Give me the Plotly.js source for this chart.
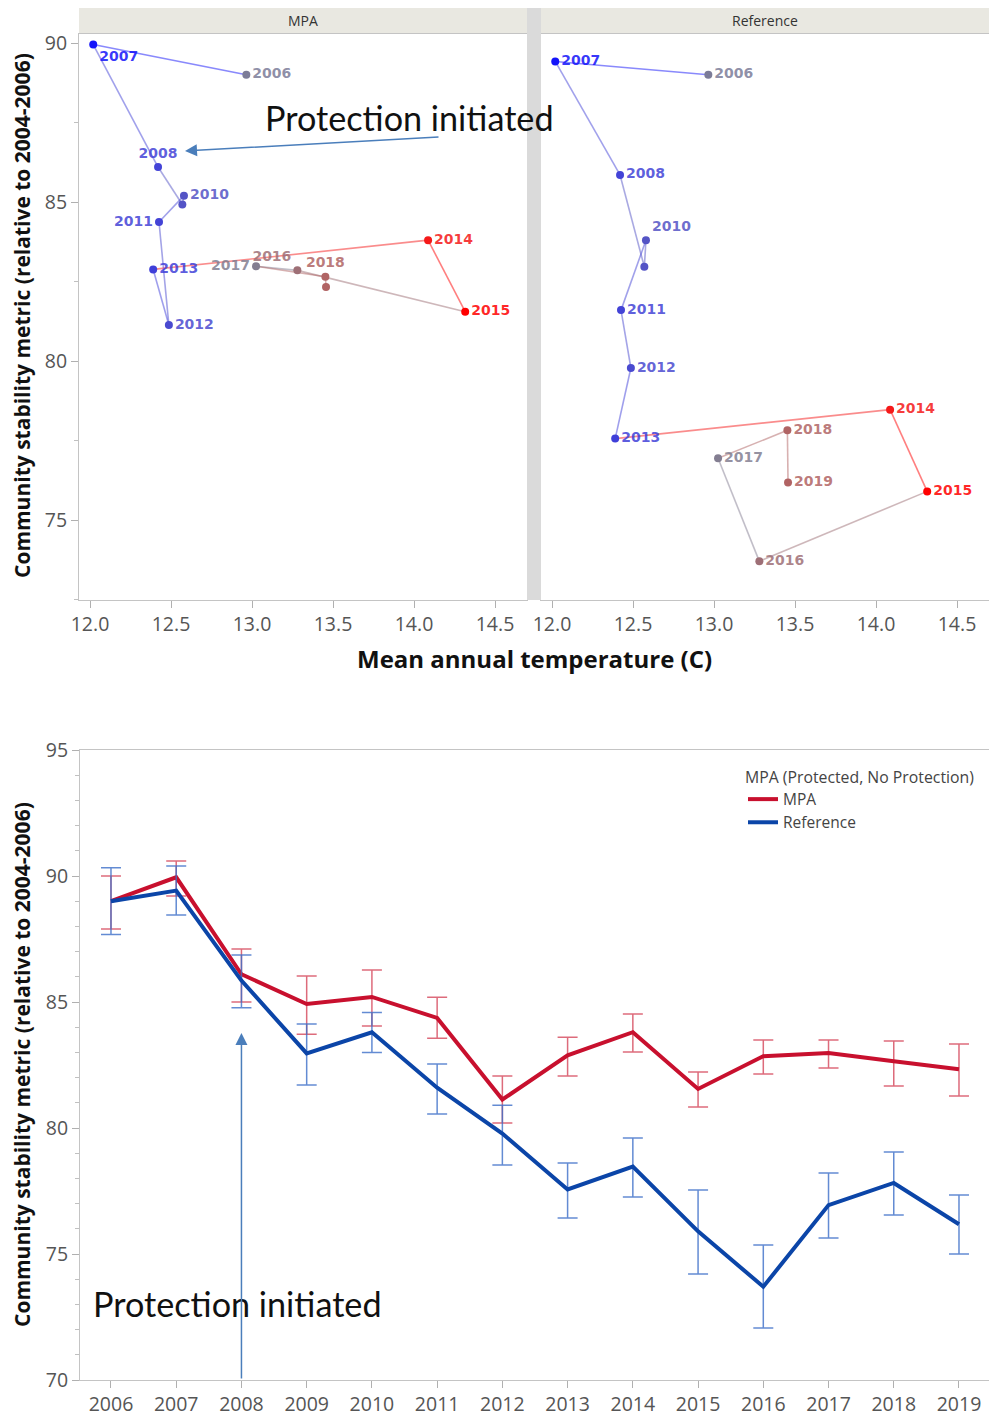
<!DOCTYPE html>
<html><head><meta charset="utf-8">
<script src="https://cdn.plot.ly/plotly-3.0.1.min.js"></script>
<style>html,body{margin:0;padding:0;background:#fff}#chart{width:989px;height:1421px}</style>
</head><body><div id="chart"></div>
<script>
// ---- data ----
const years = [2006, 2007, 2008, 2009, 2010, 2011, 2012, 2013, 2014, 2015, 2016, 2017, 2018, 2019];
const temperature = [12.965, 12.02, 12.42, 12.57, 12.58, 12.426, 12.487, 12.39, 14.087, 14.316, 13.28, 13.025, 13.453, 13.457];
const mpaMean  = [89.0, 89.95, 86.1, 84.92, 85.2, 84.37, 81.13, 82.88, 83.8, 81.55, 82.85, 82.98, 82.65, 82.33];
const mpaUpper = [90.0, 90.6, 87.1, 86.03, 86.27, 85.19, 82.06, 83.6, 84.52, 82.22, 83.49, 83.49, 83.45, 83.33];
const mpaLower = [87.9, 89.21, 85.0, 83.72, 84.05, 83.56, 80.2, 82.06, 83.02, 80.83, 82.14, 82.38, 81.67, 81.27];
const refMean  = [89.0, 89.42, 85.85, 82.96, 83.8, 81.6, 79.78, 77.56, 78.47, 75.9, 73.7, 76.94, 77.82, 76.18];
const refUpper = [90.33, 90.4, 86.87, 84.13, 84.58, 82.54, 80.9, 78.61, 79.6, 77.54, 75.36, 78.21, 79.05, 77.34];
const refLower = [87.68, 88.45, 84.77, 81.71, 83.0, 80.56, 78.53, 76.43, 77.26, 74.21, 72.06, 75.63, 76.55, 75.0];
const panelNames = ['MPA', 'Reference'];
const tempTicks = [12.0, 12.5, 13.0, 13.5, 14.0, 14.5];
const hiddenLabelsMPA = [2009, 2019];
const hiddenLabelsRef = [2009];

// ---- styling ----
const labelPosMPA = ['middle right','bottom right','top center','middle right','middle right','middle left','middle right',
  'middle right','middle right','middle right','top left','middle left','top center','middle right'];
const labelPosRef = ['middle right','middle right','middle right','middle right','top right','middle right','middle right',
  'middle right','middle right','middle right','middle right','middle right','middle right','middle right'];

const stops = [[12.02,[20,20,250]],[12.45,[70,70,212]],[13.0,[128,128,148]],[13.45,[176,100,100]],[14.09,[245,25,25]],[14.32,[255,0,0]]];
function tempColor(t, a) {
  let c = stops[stops.length-1][1];
  if (t <= stops[0][0]) c = stops[0][1];
  for (let i = 1; i < stops.length; i++) {
    if (t <= stops[i][0] && t >= stops[i-1][0]) {
      const f = (t - stops[i-1][0]) / (stops[i][0] - stops[i-1][0]);
      c = stops[i-1][1].map((v, k) => Math.round(v + f * (stops[i][1][k] - v)));
      break;
    }
  }
  return 'rgba(' + c.join(',') + ',' + (a === undefined ? 1 : a) + ')';
}
const cmin = stops[0][0], cmax = stops[stops.length-1][0];
const colorscale = stops.map(s => [(s[0]-cmin)/(cmax-cmin), 'rgb(' + s[1].join(',') + ')']);

const traces = [];
function panel(means, hidden, pos, xa, ya) {
  for (let i = 1; i < years.length; i++) {
    traces.push({
      x: [temperature[i-1], temperature[i]], y: [means[i-1], means[i]],
      mode: 'lines', xaxis: xa, yaxis: ya, showlegend: false, hoverinfo: 'skip',
      line: {color: tempColor(temperature[i], 0.5), width: 1.6}
    });
  }
  traces.push({
    x: temperature, y: means, mode: 'markers+text', xaxis: xa, yaxis: ya, showlegend: false,
    text: years.map(y => hidden.includes(y) ? '' : String(y)),
    textposition: pos,
    textfont: {family: 'DejaVu Sans', size: 14, weight: 'bold', color: temperature.map(t => tempColor(t, 0.85))},
    marker: {size: 8, color: temperature, colorscale: colorscale, cmin: cmin, cmax: cmax, showscale: false}
  });
}
panel(mpaMean, hiddenLabelsMPA, labelPosMPA, 'x', 'y');
panel(refMean, hiddenLabelsRef, labelPosRef, 'x2', 'y2');

traces.push({
  x: years, y: mpaMean, mode: 'lines', name: 'MPA', xaxis: 'x3', yaxis: 'y3',
  line: {color: '#c8102e', width: 4},
  error_y: {type: 'data', symmetric: false, array: mpaUpper.map((u, i) => u - mpaMean[i]),
    arrayminus: mpaLower.map((l, i) => mpaMean[i] - l), color: 'rgba(212,70,90,0.8)', thickness: 1.5, width: 10}
});
traces.push({
  x: years, y: refMean, mode: 'lines', name: 'Reference', xaxis: 'x3', yaxis: 'y3',
  line: {color: '#0b45a8', width: 4},
  error_y: {type: 'data', symmetric: false, array: refUpper.map((u, i) => u - refMean[i]),
    arrayminus: refLower.map((l, i) => refMean[i] - l), color: 'rgba(60,110,200,0.8)', thickness: 1.5, width: 10}
});

const W = 989, H = 1421;
const px = v => v / W, py = v => 1 - v / H;
const tickFont = {family: 'Open Sans', size: 19.5, color: '#555'};
const axBase = {showgrid: false, zeroline: false, showline: true, linecolor: '#c4c4c4', linewidth: 1,
  ticks: 'outside', ticklen: 7, tickcolor: '#b0b0b0', tickfont: tickFont, mirror: true};
const topY = [90 - 557/31.8, 90 + 9/31.8];
const topX = [12 - 11/162, 12 + 437/162];
const ann = (o) => Object.assign({xref: 'paper', yref: 'paper', showarrow: false, xanchor: 'center', yanchor: 'middle'}, o);

const layout = {
  width: W, height: H, margin: {l: 0, r: 0, t: 0, b: 0},
  paper_bgcolor: '#fff', plot_bgcolor: '#fff',
  font: {family: 'Open Sans', color: '#444'},
  xaxis: Object.assign({}, axBase, {domain: [px(79), px(527)], anchor: 'y', range: topX, tickvals: tempTicks, tickformat: '.1f'}),
  yaxis: Object.assign({}, axBase, {domain: [py(600), py(34)], anchor: 'x', range: topY, dtick: 5, tick0: 70,
    minor: {dtick: 2.5, ticks: 'outside', ticklen: 4, tickcolor: '#c0c0c0'}}),
  xaxis2: Object.assign({}, axBase, {domain: [px(541), px(989)], anchor: 'y2', range: topX, tickvals: tempTicks, tickformat: '.1f'}),
  yaxis2: Object.assign({}, axBase, {domain: [py(600), py(34)], anchor: 'x2', range: topY, showticklabels: false, ticks: ''}),
  xaxis3: Object.assign({}, axBase, {domain: [px(80), px(989)], anchor: 'y3', range: [2005.525, 2019.46], tickvals: years}),
  yaxis3: Object.assign({}, axBase, {domain: [py(1380), py(750)], anchor: 'x3', range: [70, 95], dtick: 5, tick0: 70,
    minor: {dtick: 1, ticks: 'outside', ticklen: 4, tickcolor: '#c0c0c0'}}),
  showlegend: true,
  legend: {x: px(743), y: py(762), xanchor: 'left', yanchor: 'top', bgcolor: 'rgba(0,0,0,0)',
    font: {family: 'Open Sans', size: 15.5, color: '#444'},
    title: {text: 'MPA (Protected, No Protection)', font: {family: 'Open Sans', size: 15.8, color: '#444'}}},
  shapes: [
    {type: 'rect', xref: 'paper', yref: 'paper', x0: px(79), x1: px(989), y0: py(34), y1: py(8), fillcolor: '#e9e8e1', line: {width: 0}, layer: 'below'},
    {type: 'rect', xref: 'paper', yref: 'paper', x0: px(527), x1: px(541), y0: py(600), y1: py(8), fillcolor: '#dadada', line: {width: 0}}
  ],
  annotations: [
    ann({x: px(303), y: py(21), text: panelNames[0], font: {family: 'Open Sans', size: 14, color: '#333'}}),
    ann({x: px(765), y: py(21), text: panelNames[1], font: {family: 'Open Sans', size: 14, color: '#333'}}),
    ann({x: px(534), y: py(658), text: '<b>Mean annual temperature (C)</b>', font: {family: 'Open Sans', size: 24, color: '#111'}}),
    ann({x: px(22), y: py(316), textangle: -90, text: '<b>Community stability metric (relative to 2004-2006)</b>', font: {family: 'Open Sans', size: 21, color: '#111'}}),
    ann({x: px(22), y: py(1065), textangle: -90, text: '<b>Community stability metric (relative to 2004-2006)</b>', font: {family: 'Open Sans', size: 21, color: '#111'}}),
    ann({x: px(263), y: py(117), xanchor: 'left', text: 'Protection initiated', font: {family: 'Lato', size: 34.2, color: '#111'}}),
    ann({x: px(91), y: py(1303), xanchor: 'left', text: 'Protection initiated', font: {family: 'Lato', size: 34.2, color: '#111'}}),
    {xref: 'x', yref: 'y', x: 12 + 95/162, y: 90 - 108/31.8, axref: 'x', ayref: 'y', ax: 12 + 350/162, ay: 90 - 94/31.8,
      text: '', showarrow: true, arrowhead: 2, arrowsize: 1.6, arrowwidth: 1.5, arrowcolor: '#4a7ebb', standoff: 0},
    {xref: 'x3', yref: 'y3', x: 2008, y: 95 - 283/25.2, axref: 'x3', ayref: 'y3', ax: 2008, ay: 70,
      text: '', showarrow: true, arrowhead: 2, arrowsize: 1.6, arrowwidth: 1.5, arrowcolor: '#4a7ebb', standoff: 0}
  ]
};
Plotly.newPlot('chart', traces, layout, {displayModeBar: false, staticPlot: true});
</script></body></html>
